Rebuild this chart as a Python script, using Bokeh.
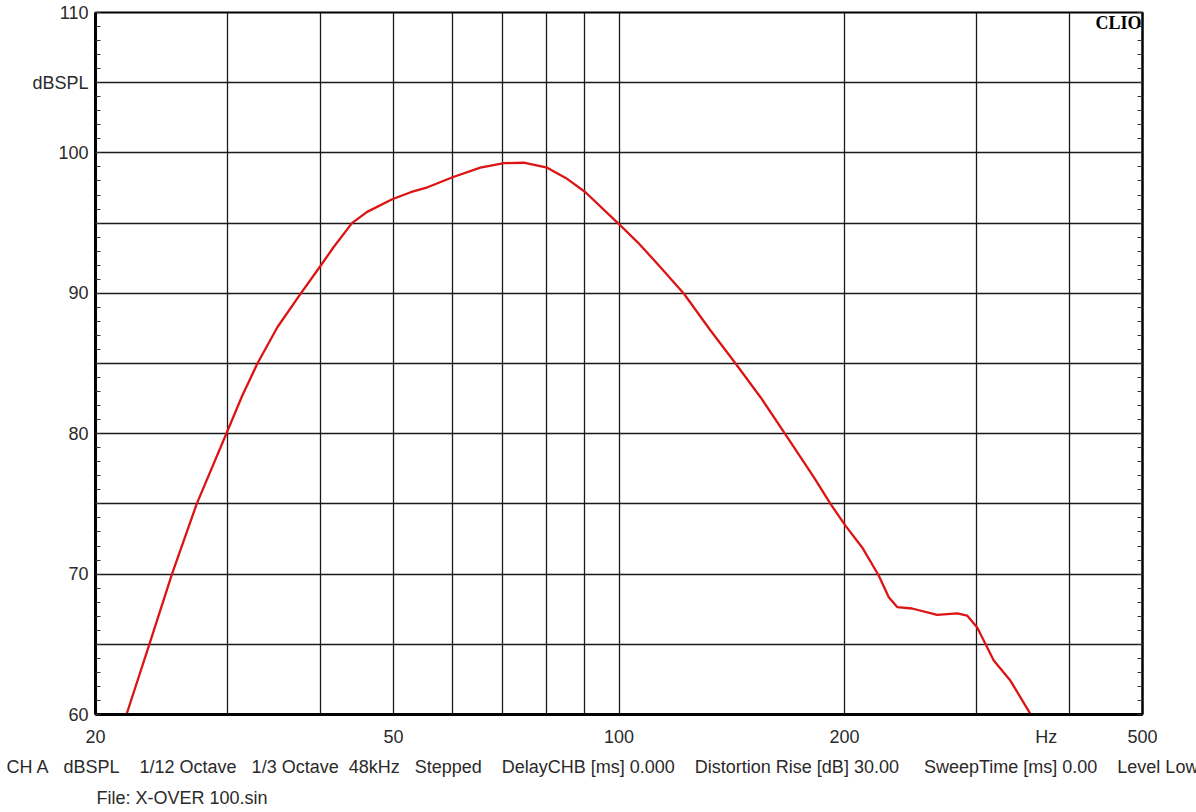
from bokeh.plotting import figure
from bokeh.models import FixedTicker, LinearAxis, Label, Range1d, Title
from bokeh.embed import file_html
from bokeh.resources import INLINE

# ---- data ----
freq_hz = [22.0, 23.6, 25.3, 27.3, 29.9, 31.4, 32.9, 35.0, 37.5, 40.0, 41.6, 44.0, 46.1, 49.8,
           52.7, 55.5, 60.2, 65.3, 70.2, 74.6, 80.2, 85.0, 90.2, 99.9, 106.5, 113.6, 122.1, 132.5,
           143.1, 154.5, 166.8, 182.0, 191.6, 200.6, 211.2, 222.2, 229.2, 235.2, 246.2,
           266.0, 282.9, 291.6, 300.8, 316.5, 333.2, 354.2]
spl_db = [60.0, 65.0, 70.0, 75.0, 80.0, 82.7, 85.0, 87.6, 89.9, 92.0, 93.3, 95.0, 95.8, 96.7,
          97.2, 97.55, 98.3, 98.95, 99.27, 99.3, 98.95, 98.2, 97.2, 94.95, 93.5, 91.86, 89.97, 87.35,
          85.0, 82.6, 79.95, 76.9, 75.0, 73.45, 71.9, 69.9, 68.35, 67.65, 67.55,
          67.1, 67.2, 67.05, 66.2, 63.85, 62.4, 60.05]

x_label_ticks = [20, 50, 100, 200, 372, 500]
x_label_text = {372: "Hz"}
x_grid_ticks = [30, 40, 50, 60, 70, 80, 90, 100, 200, 300, 400]
y_label_ticks = [60, 70, 80, 90, 100, 105, 110]
y_label_text = {105: "dBSPL"}
y_grid_ticks = [65, 70, 75, 80, 85, 90, 95, 100, 105]
y_minor_ticks = list(range(60, 111))

info_items = ["CH A", "dBSPL", "1/12 Octave", "1/3 Octave", "48kHz", "Stepped",
              "DelayCHB [ms] 0.000", "Distortion Rise [dB] 30.00", "SweepTime [ms] 0.00", "Level Low"]
info_gaps = [3, 4, 3, 2, 3, 4, 4, 5, 4]
file_text = "File: X-OVER 100.sin"
brand_text = "CLIO"

FONT = "Liberation Sans"
TXT = "#2a2a2a"
NB = "\u00a0"

W, H = 1196, 812
p = figure(width=W, height=H, x_axis_type="log", output_backend="svg", toolbar_location=None,
           x_range=Range1d(20, 500), y_range=Range1d(60, 110),
           min_border_left=95, min_border_right=54, min_border_top=12, min_border_bottom=98)
p.background_fill_color = "white"
p.border_fill_color = "white"
p.outline_line_color = "black"
p.outline_line_width = 2

# grids
p.xgrid.ticker = FixedTicker(ticks=x_grid_ticks)
p.ygrid.ticker = FixedTicker(ticks=y_grid_ticks)
for g in (p.xgrid, p.ygrid):
    g.grid_line_color = "#1a1a1a"
    g.grid_line_width = 1.3
    g.grid_line_alpha = 1.0

# x axis
xa = p.xaxis[0]
xa.ticker = FixedTicker(ticks=x_label_ticks)
xa.major_label_overrides = x_label_text
xa.major_tick_line_color = None
xa.major_tick_out = 0
xa.major_tick_in = 0
xa.minor_tick_line_color = None
xa.minor_tick_out = 0
xa.axis_line_width = 3
xa.axis_line_color = "black"
xa.major_label_standoff = 12
xa.major_label_text_font = FONT
xa.major_label_text_font_size = "18px"
xa.major_label_text_color = TXT

# y axis
ya = p.yaxis[0]
ya.ticker = FixedTicker(ticks=y_label_ticks, minor_ticks=y_minor_ticks)
ya.major_label_overrides = y_label_text
ya.major_tick_line_color = None
ya.major_tick_out = 0
ya.major_tick_in = 0
ya.minor_tick_in = 5
ya.minor_tick_out = 0
ya.minor_tick_line_color = "#333333"
ya.minor_tick_line_width = 1
ya.axis_line_width = 3
ya.axis_line_color = "black"
ya.major_label_standoff = 7
ya.major_label_text_font = FONT
ya.major_label_text_font_size = "18px"
ya.major_label_text_color = TXT

# right axis: only inward minor ticks
ra = LinearAxis(ticker=FixedTicker(ticks=y_label_ticks, minor_ticks=y_minor_ticks))
ra.major_tick_line_color = None
ra.major_tick_out = 0
ra.major_label_text_font_size = "0px"
ra.major_label_text_color = None
ra.minor_tick_in = 5
ra.minor_tick_out = 0
ra.minor_tick_line_color = "#333333"
ra.axis_line_color = "black"
ra.axis_line_width = 2
p.add_layout(ra, "right")

# curve
p.line(freq_hz, spl_db, line_color="#dd1414", line_width=2.3)

# brand (screen units relative to the plot frame)
p.add_layout(Label(x=1046, y=692, x_units="screen", y_units="screen", text=brand_text,
                   text_font="Liberation Serif", text_font_style="bold", text_font_size="18px",
                   text_align="right", text_baseline="middle", text_color="black"))

# info line and file line below the axis
info_line = info_items[0]
for gap, item in zip(info_gaps, info_items[1:]):
    info_line += NB * gap + item
p.add_layout(Title(text=info_line, align="left", offset=-89, standoff=10,
                   text_font=FONT, text_font_size="18px", text_font_style="normal",
                   text_color=TXT), "below")
p.add_layout(Title(text=file_text, align="left", offset=1, standoff=9,
                   text_font=FONT, text_font_size="18px", text_font_style="normal",
                   text_color=TXT), "below")

open("out.html", "w").write(file_html(p, INLINE))
